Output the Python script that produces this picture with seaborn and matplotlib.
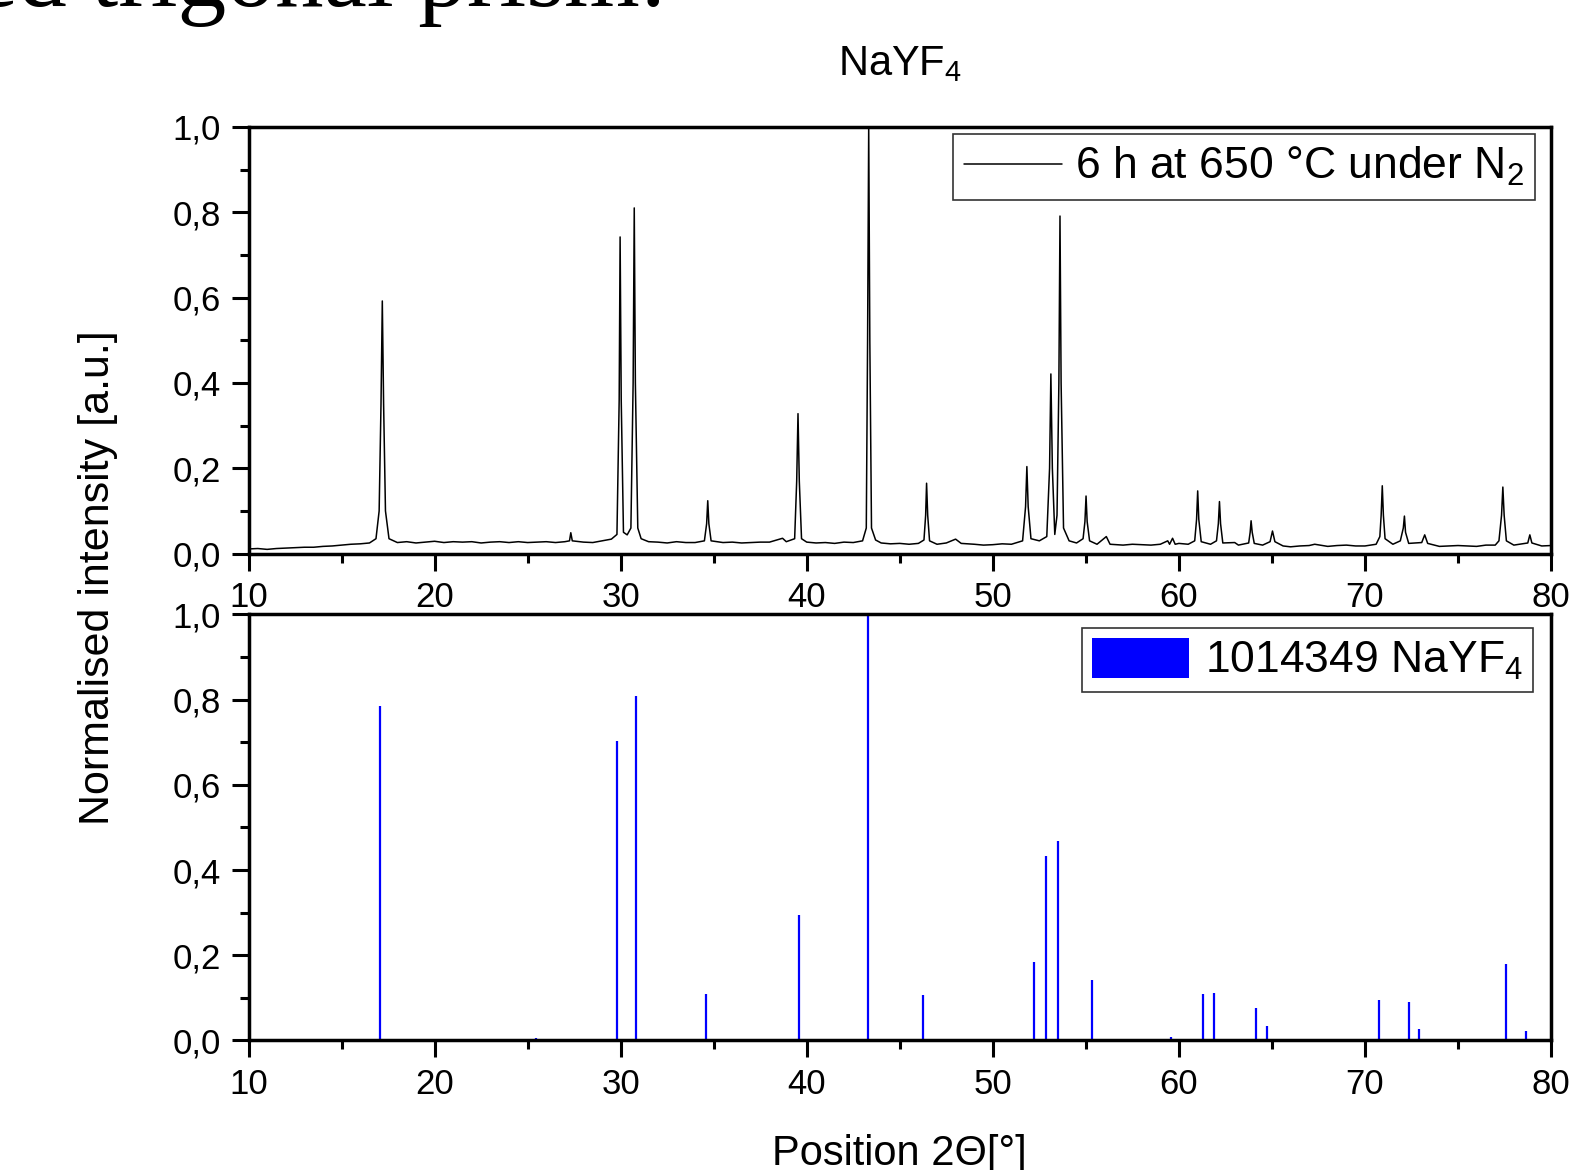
import matplotlib
matplotlib.use("Agg")
import matplotlib.pyplot as plt
import seaborn as sns
import pandas as pd
from matplotlib.patches import Patch
from matplotlib.ticker import MultipleLocator

two_theta = [
    10.0, 10.5, 11.0, 11.5, 12.0, 12.5, 13.0, 13.5, 14.0, 14.5, 15.0, 15.5, 16.0, 16.5,
    16.85, 17.02, 17.12, 17.19, 17.26, 17.36, 17.55,
    18.0, 18.5, 19.0, 19.5, 20.0, 20.5, 21.0, 21.5, 22.0, 22.5, 23.0, 23.5, 24.0, 24.5, 25.0,
    25.5, 26.0, 26.5, 27.0, 27.25, 27.32, 27.4, 28.0, 28.5, 29.0, 29.5, 29.8,
    29.92, 29.97, 30.03, 30.15, 30.35, 30.55, 30.67, 30.73, 30.79, 30.92, 31.1, 31.5,
    32.0, 32.5, 33.0, 33.5, 34.0, 34.5, 34.62, 34.68, 34.74, 34.86, 35.5, 36.0, 36.5, 37.0,
    37.5, 38.0, 38.7, 38.9, 39.35, 39.46, 39.53, 39.60, 39.72, 40.0, 40.5, 41.0, 41.5, 42.0,
    42.5, 43.0, 43.2, 43.27, 43.33, 43.39, 43.48, 43.7, 44.0, 44.5, 45.0,
    45.5, 46.0, 46.3, 46.39, 46.44, 46.50, 46.6, 47.0, 47.5, 48.0, 48.3, 49.0, 49.5, 50.0,
    50.5, 51.0, 51.6, 51.76, 51.83, 51.90, 52.05, 52.5, 52.9, 53.05, 53.12, 53.2, 53.33,
    53.45, 53.55, 53.61, 53.67, 53.8, 54.1, 54.5, 54.85, 54.95, 55.01, 55.07, 55.2, 55.6,
    56.1, 56.3,
    57.0, 57.5, 58.0, 58.5, 59.0, 59.4, 59.5, 59.66, 59.8, 60.0, 60.5, 60.85, 60.95, 61.01,
    61.07, 61.2, 61.7, 62.02, 62.12, 62.18, 62.24, 62.36, 63.0, 63.2, 63.75, 63.83, 63.88,
    63.94, 64.05, 64.5, 64.9, 65.03, 65.16, 65.6, 66.0, 66.5, 67.0, 67.3, 68.0, 68.5, 69.0,
    69.5, 70.0, 70.6, 70.8, 70.87, 70.93, 70.99, 71.08, 71.5, 71.9, 72.06, 72.12, 72.18,
    72.35, 73.05, 73.21, 73.37, 74.0, 74.5, 75.0, 75.5, 76.0, 76.5, 77.0, 77.2, 77.34, 77.41,
    77.48, 77.6, 78.0, 78.75, 78.86, 78.97, 79.5, 80.0,
]
intensity = [
    0.011, 0.012, 0.010, 0.012, 0.013, 0.014, 0.015, 0.015, 0.017, 0.018, 0.020, 0.022, 0.023, 0.025,
    0.035, 0.10, 0.35, 0.592, 0.35, 0.10, 0.035,
    0.026, 0.028, 0.025, 0.027, 0.029, 0.026, 0.028, 0.027, 0.028, 0.025, 0.027, 0.028, 0.026, 0.028, 0.026,
    0.027, 0.028, 0.026, 0.028, 0.030, 0.049, 0.030, 0.027, 0.026, 0.030, 0.034, 0.045,
    0.36, 0.742, 0.36, 0.05, 0.044, 0.06, 0.40, 0.810, 0.40, 0.06, 0.035, 0.028,
    0.027, 0.025, 0.028, 0.026, 0.026, 0.030, 0.07, 0.124, 0.07, 0.030, 0.026, 0.027, 0.025, 0.026,
    0.027, 0.027, 0.036, 0.028, 0.035, 0.17, 0.328, 0.17, 0.035, 0.027, 0.025, 0.026, 0.024, 0.027,
    0.026, 0.030, 0.06, 0.50, 1.0, 0.50, 0.06, 0.032, 0.025, 0.023, 0.024,
    0.022, 0.024, 0.032, 0.09, 0.165, 0.09, 0.030, 0.022, 0.025, 0.034, 0.024, 0.022, 0.020, 0.021,
    0.023, 0.022, 0.030, 0.11, 0.204, 0.11, 0.035, 0.030, 0.040, 0.20, 0.421, 0.20, 0.045,
    0.09, 0.40, 0.791, 0.40, 0.06, 0.030, 0.025, 0.035, 0.075, 0.135, 0.075, 0.030, 0.022,
    0.040, 0.022,
    0.020, 0.022, 0.021, 0.020, 0.022, 0.030, 0.022, 0.036, 0.022, 0.024, 0.022, 0.030, 0.08, 0.147,
    0.08, 0.028, 0.022, 0.030, 0.07, 0.122, 0.07, 0.025, 0.026, 0.020, 0.025, 0.05, 0.077,
    0.05, 0.024, 0.020, 0.028, 0.053, 0.028, 0.018, 0.016, 0.018, 0.019, 0.022, 0.017, 0.019, 0.020,
    0.018, 0.018, 0.022, 0.040, 0.09, 0.159, 0.09, 0.035, 0.022, 0.030, 0.06, 0.088, 0.05,
    0.024, 0.026, 0.044, 0.024, 0.017, 0.018, 0.019, 0.018, 0.017, 0.020, 0.020, 0.030, 0.09, 0.156,
    0.09, 0.030, 0.020, 0.025, 0.044, 0.025, 0.018, 0.019,
]

# reference card 1014349 NaYF4
ref_2theta = [17.09, 25.46, 29.81, 30.82, 34.59, 39.59, 43.31, 46.24, 52.19, 52.87, 53.51, 55.34,
              59.56, 61.29, 61.90, 64.14, 64.75, 68.08, 70.77, 72.35, 72.88, 77.59, 78.66]
ref_intensity = [0.785, 0.006, 0.703, 0.808, 0.108, 0.295, 1.0, 0.106, 0.184, 0.432, 0.468, 0.141,
                 0.009, 0.108, 0.112, 0.076, 0.034, 0.004, 0.095, 0.090, 0.027, 0.180, 0.021]

x_ticks = [10, 20, 30, 40, 50, 60, 70, 80]
y_ticks = [0.0, 0.2, 0.4, 0.6, 0.8, 1.0]
y_tick_labels = ["0,0", "0,2", "0,4", "0,6", "0,8", "1,0"]

sample_label = "6 h at 650 °C under N$_2$"
ref_label = "1014349 NaYF$_4$"

sns.set_style("ticks")
plt.rcParams["font.family"] = ["Liberation Sans", "DejaVu Sans"]
plt.rcParams["mathtext.default"] = "regular"
plt.rcParams["text.color"] = "black"
plt.rcParams["axes.labelcolor"] = "black"
plt.rcParams["xtick.color"] = "black"
plt.rcParams["ytick.color"] = "black"

df = pd.DataFrame({"two_theta": two_theta, "intensity": intensity})

fig = plt.figure(figsize=(15.9, 11.7), dpi=100)
ax1 = fig.add_axes([0.1563, 0.5268, 0.8192, 0.3648])
ax2 = fig.add_axes([0.1563, 0.1108, 0.8192, 0.3640])

sns.lineplot(data=df, x="two_theta", y="intensity", ax=ax1, color="black",
             linewidth=1.1, estimator=None, sort=False)
ax2.vlines(ref_2theta, 0, ref_intensity, color="#0000ff", linewidth=1.6)

for ax in (ax1, ax2):
    ax.set_xlim(10, 80)
    ax.set_ylim(0, 1.0)
    ax.set_xticks(x_ticks)
    ax.set_xticklabels([str(t) for t in x_ticks])
    ax.xaxis.set_minor_locator(MultipleLocator(5))
    ax.set_yticks(y_ticks)
    ax.set_yticklabels(y_tick_labels)
    ax.yaxis.set_minor_locator(MultipleLocator(0.1))
    ax.tick_params(which="major", direction="out", length=12, width=2.2,
                   labelsize=25, pad=8, color="black", labelcolor="black")
    ax.tick_params(which="minor", direction="out", length=6.5, width=2.2, color="black")
    for s in ax.spines.values():
        s.set_visible(True)
        s.set_linewidth(2.5)
        s.set_color("black")
    ax.set_xlabel("")
    ax.set_ylabel("")

leg1 = ax1.legend(handles=[ax1.get_lines()[0]], labels=[sample_label],
                  loc="upper right", bbox_to_anchor=(0.988, 0.983), borderaxespad=0,
                  fontsize=32, frameon=True, fancybox=False, edgecolor="black",
                  handlelength=2.2, handletextpad=0.3, borderpad=0.25, labelcolor="black")
leg1.get_frame().set_linewidth(1.2)

leg2 = ax2.legend(handles=[Patch(facecolor="#0000ff", edgecolor="none")], labels=[ref_label],
                  loc="upper right", bbox_to_anchor=(0.986, 0.968), borderaxespad=0,
                  fontsize=32, frameon=True, fancybox=False, edgecolor="black",
                  handlelength=2.2, handleheight=1.0, handletextpad=0.35, borderpad=0.22,
                  labelcolor="black")
leg2.get_frame().set_linewidth(1.2)

fig.text(0.566, 0.9359, "NaYF$_4$", ha="center", va="baseline", fontsize=30)
fig.text(0.5654, 0.0043, "Position 2Θ[°]", ha="center", va="baseline", fontsize=30)
fig.text(0.0616, 0.506, "Normalised intensity [a.u.]", rotation=90,
         ha="center", va="center", fontsize=31)
fig.text(-0.016, 0.9949, "ed trigonal prism:", ha="left", va="baseline",
         fontsize=70, family="Liberation Serif")

fig.savefig("out.png", dpi=100)
